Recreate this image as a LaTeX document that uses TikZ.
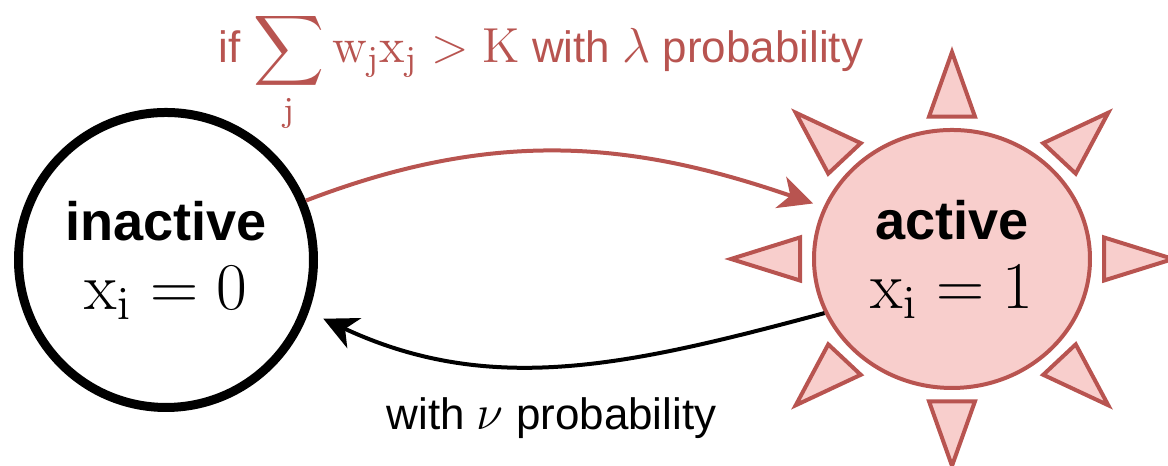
\documentclass[tikz,border=0pt]{standalone}
\usepackage{fix-cm}
\usepackage{amsmath}
\usepackage{amssymb}
\usepackage[no-math]{fontspec}
\setmainfont{Liberation Sans}
\usetikzlibrary{positioning, shapes.geometric, arrows.meta}

\definecolor{sunred}{HTML}{B85450}
\definecolor{sunfill}{HTML}{F8CECC}

\newcommand{\statemath}[1]{{\fontsize{19}{22}\selectfont$#1$}}
\newcommand{\labelmath}[1]{{\fontsize{14}{17}\selectfont$#1$}}

\begin{document}
\begin{tikzpicture}[>={Stealth[length=0.34cm, width=0.33cm, inset=0.1cm]},
    state/.style={circle, draw, line width=0.09cm, inner sep=0pt, minimum size=2.95cm,
        align=center, font=\fontsize{15.4}{19.6}\selectfont},
    sun/.style={ellipse, draw=sunred, fill=sunfill, line width=0.04cm, inner sep=0pt,
        minimum width=2.76cm, minimum height=2.58cm, align=center,
        font=\fontsize{15.4}{19.6}\selectfont},
    ray/.style={draw=sunred, fill=sunfill, line width=0.04cm},
    link/.style={->, line width=0.04cm},
    lbl/.style={inner sep=0pt, font=\fontsize{12.5}{15}\selectfont}]
    \useasboundingbox (0, 0) rectangle (11.68, 4.66);

    % Nodes states
    \node[state] (inactive) at (1.66, 2.06) {\textbf{inactive}\\\statemath{\mathrm{x_i} = 0}};
    \node[sun] (active) at (9.52, 2.07) {\textbf{active}\\\statemath{\mathrm{x_i} = 1}};

    % Rays of the active state
    \begin{scope}[shift={(active.center)}, yscale=0.936]
        \foreach \a in {0,45,...,315}
            \draw[ray, rotate=\a] (1.52, -0.23) -- (2.21, 0) -- (1.52, 0.23) -- cycle;
    \end{scope}

    % Transitions
    \draw[link, sunred, shorten >=0.11cm] (inactive.23) to[out=21, in=161] (active.158);
    \draw[link, shorten >=0.16cm] (active.203) to[out=195, in=-25] (inactive.-20);

    % Labels
    \node[lbl, text=sunred, anchor=base] (cond) at (5.41, 4.03)
        {if \labelmath{\displaystyle\sum_{\mathrm{j}} \mathrm{w_j x_j} > \mathrm{K}} with \labelmath{\lambda} probability};
    \node[lbl, anchor=base] (reset) at (5.515, 0.36) {with \labelmath{\nu} probability};
\end{tikzpicture}
\end{document}
